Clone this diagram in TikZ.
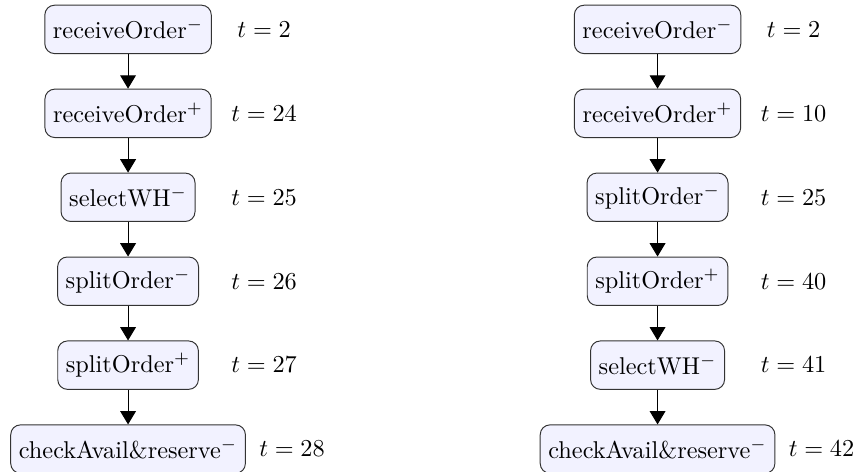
\documentclass[tikz,border=0pt]{standalone}
\usetikzlibrary{positioning,arrows.meta}

\begin{document}
\begin{tikzpicture}[auto,
    act/.style={draw=black!80, fill=blue!5, rounded corners, minimum height=7mm},
    line/.style={draw, -{Triangle[width=6.5pt,length=5.5pt]}},
    node distance=5mm,
    ]
    \useasboundingbox (0,0) rectangle (353.5pt,-194.2pt);

    % Place nodes (left trace)
    \node [act] (l1) at (52.7pt,-12.1pt) {receiveOrder$^-$};
    \node [act, below=of l1] (l2) {receiveOrder$^+$};
    \node [act, below=of l2] (l3) {selectWH$^-$};
    \node [act, below=of l3] (l4) {splitOrder$^-$};
    \node [act, below=of l4] (l5) {splitOrder$^+$};
    \node [act, below=of l5] (l6) {checkAvail\&reserve$^-$};

    % Place nodes (right trace)
    \node [act] (r1) at (270.6pt,-12.1pt) {receiveOrder$^-$};
    \node [act, below=of r1] (r2) {receiveOrder$^+$};
    \node [act, below=of r2] (r3) {splitOrder$^-$};
    \node [act, below=of r3] (r4) {splitOrder$^+$};
    \node [act, below=of r4] (r5) {selectWH$^-$};
    \node [act, below=of r5] (r6) {checkAvail\&reserve$^-$};

    % Times
    \node (tl1) at ([xshift=56pt]l1.center) {$t = 2$};
    \node (tl2) at ([xshift=56pt]l2.center) {$t = 24$};
    \node (tl3) at ([xshift=56pt]l3.center) {$t = 25$};
    \node (tl4) at ([xshift=56pt]l4.center) {$t = 26$};
    \node (tl5) at ([xshift=56pt]l5.center) {$t = 27$};
    \node [right=2pt of l6] (tl6) {$t = 28$};

    \node (tr1) at ([xshift=56pt]r1.center) {$t = 2$};
    \node (tr2) at ([xshift=56pt]r2.center) {$t = 10$};
    \node (tr3) at ([xshift=56pt]r3.center) {$t = 25$};
    \node (tr4) at ([xshift=56pt]r4.center) {$t = 40$};
    \node (tr5) at ([xshift=56pt]r5.center) {$t = 41$};
    \node [right=2pt of r6] (tr6) {$t = 42$};

    % Draw edges
    \foreach \a/\b in {l1/l2,l2/l3,l3/l4,l4/l5,l5/l6,r1/r2,r2/r3,r3/r4,r4/r5,r5/r6}
      \path [line] (\a) -- (\b);
\end{tikzpicture}
\end{document}
